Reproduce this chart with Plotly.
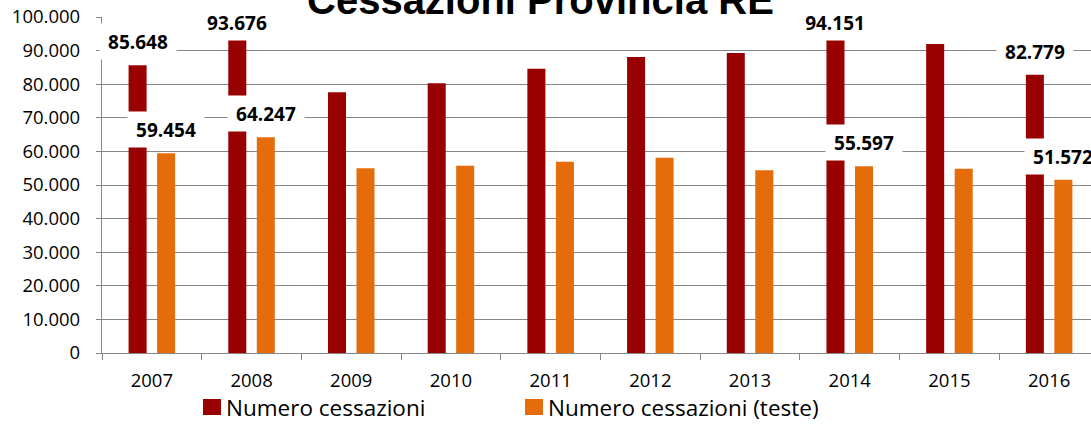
import plotly.graph_objects as go

# Dati: cessazioni in provincia di Reggio Emilia
anni = ["2007", "2008", "2009", "2010", "2011", "2012", "2013", "2014", "2015", "2016"]
cessazioni = [85648, 93676, 77600, 80300, 84600, 88100, 89300, 94151, 92000, 82779]
cessazioni_teste = [59454, 64247, 55000, 55700, 56900, 58100, 54400, 55597, 54800, 51572]
# anni per cui viene mostrata l'etichetta del valore
anni_etichettati = ["2007", "2008", "2014", "2016"]

nome_serie_1 = "Numero cessazioni"
nome_serie_2 = "Numero cessazioni (teste)"
titolo = "Cessazioni Provincia RE"

ROSSO = "#990000"
ARANCIO = "#E46C0A"
GRIGIO = "#868686"
FONT = "Open Sans"

W, H = 1091, 426
M_L, M_R, M_T, M_B = 102, 0, 17, 73
Y_MAX = 100000
plot_w = W - M_L - M_R
plot_h = H - M_T - M_B
px_per_val = plot_h / Y_MAX

fig = go.Figure()
fig.add_trace(go.Bar(x=anni, y=cessazioni, name=nome_serie_1,
                     marker=dict(color=ROSSO, line=dict(width=0)), showlegend=False))
fig.add_trace(go.Bar(x=anni, y=cessazioni_teste, name=nome_serie_2,
                     marker=dict(color=ARANCIO, line=dict(width=0)), showlegend=False))

# larghezza categoria in pixel e spostamento delle barre nel gruppo
cat_px = plot_w / 9.92
bargap, bargroupgap = 0.428, 0.368
slot = (1 - bargap) * cat_px / 2
offsets = [-slot / 2, slot / 2]


def fmt(v):
    return f"{v:,}".replace(",", ".")


annotations = []
for serie, off in ((cessazioni, offsets[0]), (cessazioni_teste, offsets[1])):
    for i, (anno, v) in enumerate(zip(anni, serie)):
        if anno not in anni_etichettati:
            continue
        top_px = M_T + (Y_MAX - v) * px_per_val
        shift = min(23.5, top_px - 22.7)
        annotations.append(dict(
            x=i, y=v, xref="x", yref="y", xshift=off, yshift=shift,
            xanchor="center", yanchor="middle",
            text=f"<b>{fmt(v)}</b>", showarrow=False,
            font=dict(family=FONT, size=19, color="#000000"),
            bgcolor="#FFFFFF", borderpad=0, width=76, height=35,
        ))

# titolo
annotations.append(dict(
    x=(540 - M_L) / plot_w, y=1 + M_T / plot_h, xref="paper", yref="paper",
    xanchor="center", yanchor="middle",
    text=f"<b>{titolo}</b>", showarrow=False,
    font=dict(family="Liberation Sans", size=40, color="#000000"),
))

# legenda disegnata a mano
shapes = []
legend_items = [(nome_serie_1, ROSSO, 203), (nome_serie_2, ARANCIO, 525)]
leg_y = 407
for nome, col, px in legend_items:
    shapes.append(dict(
        type="rect", xref="paper", yref="paper",
        x0=(px - M_L) / plot_w, x1=(px + 18 - M_L) / plot_w,
        y0=(H - M_B - (leg_y + 8)) / plot_h, y1=(H - M_B - (leg_y - 8)) / plot_h,
        fillcolor=col, line=dict(width=0), layer="above",
    ))
    annotations.append(dict(
        x=(px + 21 - M_L) / plot_w, y=(H - M_B - leg_y) / plot_h,
        xref="paper", yref="paper", xanchor="left", yanchor="middle",
        text=nome, showarrow=False,
        font=dict(family=FONT, size=22.5, color="#000000"),
    ))

fig.update_layout(
    width=W, height=H,
    margin=dict(l=M_L, r=M_R, t=M_T, b=M_B, pad=0),
    paper_bgcolor="#FFFFFF", plot_bgcolor="#FFFFFF",
    barmode="group", bargap=bargap, bargroupgap=bargroupgap,
    separators=",.",
    showlegend=False,
    annotations=annotations, shapes=shapes,
    font=dict(family=FONT, color="#000000"),
)
fig.update_xaxes(
    type="category", range=[-0.5, 9.42],
    showline=True, linecolor=GRIGIO, linewidth=1.3,
    ticks="outside", tickson="boundaries", ticklen=6, tickcolor=GRIGIO, tickwidth=1.3,
    showgrid=False, tickfont=dict(family=FONT, size=18.5, color="#000000"),
    ticklabelstandoff=11,
)
fig.update_yaxes(
    range=[0, Y_MAX], dtick=10000, tickformat=",d",
    showline=True, linecolor=GRIGIO, linewidth=1.3,
    ticks="outside", ticklen=5, tickcolor=GRIGIO, tickwidth=1.3,
    showgrid=True, gridcolor=GRIGIO, gridwidth=1.3, zeroline=False,
    tickfont=dict(family=FONT, size=18.5, color="#000000"),
    ticklabelstandoff=12,
)

fig.write_html("out.html")
